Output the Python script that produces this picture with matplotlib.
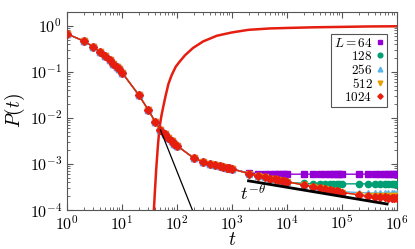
import numpy as np
import matplotlib
matplotlib.use("Agg")
import matplotlib.pyplot as plt
from matplotlib.ticker import FuncFormatter, LogLocator

plt.rcParams["mathtext.fontset"] = "cm"
plt.rcParams["font.family"] = "DejaVu Serif"

# time steps (1..9 x 10^k)
t = [1, 2, 3, 4, 5, 6, 7, 8, 9,
     10, 20, 30, 40, 50, 60, 70, 80, 90,
     100, 200, 300, 400, 500, 600, 700, 800, 900,
     1e3, 2e3, 3e3, 4e3, 5e3, 6e3, 7e3, 8e3, 9e3,
     1e4, 2e4, 3e4, 4e4, 5e4, 6e4, 7e4, 8e4, 9e4,
     1e5, 2e5, 3e5, 4e5, 5e5, 6e5, 7e5, 8e5, 9e5,
     1e6]

# shared early-time part (t <= 1000), all sizes collapse
p_early = [0.67, 0.47, 0.35, 0.27, 0.22, 0.18, 0.15, 0.13, 0.113,
           0.097, 0.032, 0.015, 0.0083, 0.0056, 0.0045, 0.0037, 0.0031, 0.0027,
           0.0025, 0.00135, 0.0011, 0.00102, 0.00095, 0.0009, 0.00086, 0.00083, 0.0008,
           0.00078]

# late-time tails (t = 2e3 .. 1e6)
tail_64 = [6.4e-4, 6.2e-4, 6.1e-4, 6.1e-4, 6.0e-4, 6.0e-4, 6.0e-4, 6.0e-4,
           6.0e-4, 6.0e-4, 6.0e-4, 6.0e-4, 6.0e-4, 6.0e-4, 6.0e-4, 6.0e-4, 6.0e-4,
           6.0e-4, 6.0e-4, 6.0e-4, 6.0e-4, 6.0e-4, 6.0e-4, 6.0e-4, 6.0e-4, 6.0e-4,
           6.0e-4]
tail_128 = [6.2e-4, 5.5e-4, 5.1e-4, 4.8e-4, 4.6e-4, 4.4e-4, 4.3e-4, 4.2e-4,
            4.0e-4, 3.8e-4, 3.7e-4, 3.7e-4, 3.7e-4, 3.7e-4, 3.7e-4, 3.7e-4, 3.7e-4,
            3.7e-4, 3.7e-4, 3.7e-4, 3.7e-4, 3.7e-4, 3.7e-4, 3.7e-4, 3.7e-4, 3.7e-4,
            3.7e-4]
tail_256 = [6.2e-4, 5.5e-4, 5.1e-4, 4.8e-4, 4.6e-4, 4.4e-4, 4.3e-4, 4.2e-4,
            4.1e-4, 3.5e-4, 3.2e-4, 3.0e-4, 2.85e-4, 2.75e-4, 2.65e-4, 2.6e-4, 2.55e-4,
            2.5e-4, 2.4e-4, 2.35e-4, 2.33e-4, 2.32e-4, 2.3e-4, 2.3e-4, 2.3e-4, 2.3e-4,
            2.3e-4]
tail_512 = [6.2e-4, 5.5e-4, 5.1e-4, 4.8e-4, 4.6e-4, 4.4e-4, 4.3e-4, 4.2e-4,
            4.1e-4, 3.5e-4, 3.2e-4, 3.0e-4, 2.85e-4, 2.75e-4, 2.65e-4, 2.55e-4, 2.5e-4,
            2.4e-4, 2.15e-4, 2.05e-4, 2.02e-4, 2.0e-4, 2.0e-4, 2.0e-4, 2.0e-4, 2.0e-4,
            2.0e-4]
tail_1024 = [6.2e-4, 5.5e-4, 5.1e-4, 4.8e-4, 4.6e-4, 4.4e-4, 4.3e-4, 4.2e-4,
             4.1e-4, 3.5e-4, 3.2e-4, 3.0e-4, 2.85e-4, 2.75e-4, 2.65e-4, 2.55e-4, 2.5e-4,
             2.4e-4, 2.15e-4, 2.0e-4, 1.95e-4, 1.9e-4, 1.87e-4, 1.84e-4, 1.82e-4, 1.8e-4,
             1.78e-4]

sizes = ["64", "128", "256", "512", "1024"]
tails = [tail_64, tail_128, tail_256, tail_512, tail_1024]
colors = ["#9400d3", "#009e73", "#56b4e9", "#e69f00", "#e51e10"]
markers = ["s", "o", "^", "v", "D"]
msizes = [4.5, 4.5, 4.5, 4.5, 3.6]

# rising curve (red, thick)
rise_t = [38, 40, 42, 45, 48, 52, 56, 62, 70, 80, 95, 113, 140, 195, 300,
          530, 1000, 2000, 5000, 1e4, 3e4, 1e5, 3e5, 1e6]
rise_p = [1e-4, 3e-4, 8e-4, 2.5e-3, 6e-3, 0.011, 0.017, 0.03, 0.055, 0.085,
          0.13, 0.17, 0.23, 0.33, 0.46, 0.61, 0.72, 0.82, 0.88, 0.9, 0.93,
          0.95, 0.97, 0.98]

# guide lines
steep_t = [50, 220]
steep_p = [5.5e-3, 6.5e-5]
theta_t = [2000, 6.6e5]
theta_p = [4.3e-4, 1.35e-4]

fig = plt.figure(figsize=(4.15, 2.49), dpi=100)
ax = fig.add_axes([0.1614, 0.1566, 0.7952, 0.7952])

ax.plot(rise_t, rise_p, color="#e51e10", lw=1.8, zorder=2)
ax.plot(steep_t, steep_p, color="black", lw=0.9, zorder=4)

for lab, tail, c, m, ms in zip(sizes, tails, colors, markers, msizes):
    label = r"$L=64$" if lab == "64" else r"$%s$" % lab
    ax.plot(t, p_early + tail, color=c, marker=m, ms=ms, lw=1.0,
            label=label, zorder=3)

ax.plot(theta_t, theta_p, color="black", lw=2.0, zorder=5)
ax.text(1400, 1.6e-4, r"$t^{-\theta}$", fontsize=13)

ax.set_xscale("log")
ax.set_yscale("log")
ax.set_xlim(1, 1e6)
ax.set_ylim(1e-4, 2)

fmt = FuncFormatter(lambda v, pos: r"$10^{%d}$" % round(np.log10(v)))
ax.xaxis.set_major_formatter(fmt)
ax.yaxis.set_major_formatter(fmt)
ax.xaxis.set_minor_locator(LogLocator(subs=np.arange(2, 10), numticks=20))
ax.yaxis.set_minor_locator(LogLocator(subs=np.arange(2, 10), numticks=20))
ax.tick_params(which="both", direction="in", top=True, right=True,
               labelsize=11.5, color="#555555")
ax.tick_params(which="major", length=4)
ax.tick_params(which="minor", length=2)
for s in ax.spines.values():
    s.set_color("#555555")
    s.set_linewidth(0.8)

ax.set_xlabel(r"$t$", fontsize=14, labelpad=-2)
ax.set_ylabel(r"$P(t)$", fontsize=14, labelpad=2)

leg = ax.legend(loc="upper right", bbox_to_anchor=(0.97, 0.89),
                borderaxespad=0, markerfirst=False, fontsize=9.5,
                handlelength=0.5, handletextpad=0.35, labelspacing=0.0,
                borderpad=0.25, fancybox=False, framealpha=1,
                edgecolor="#555555", markerscale=0.75)
leg.get_frame().set_linewidth(0.8)
# show only markers in legend handles
for h in leg.legend_handles:
    h.set_linestyle("none")

fig.savefig("out.png", dpi=100)
